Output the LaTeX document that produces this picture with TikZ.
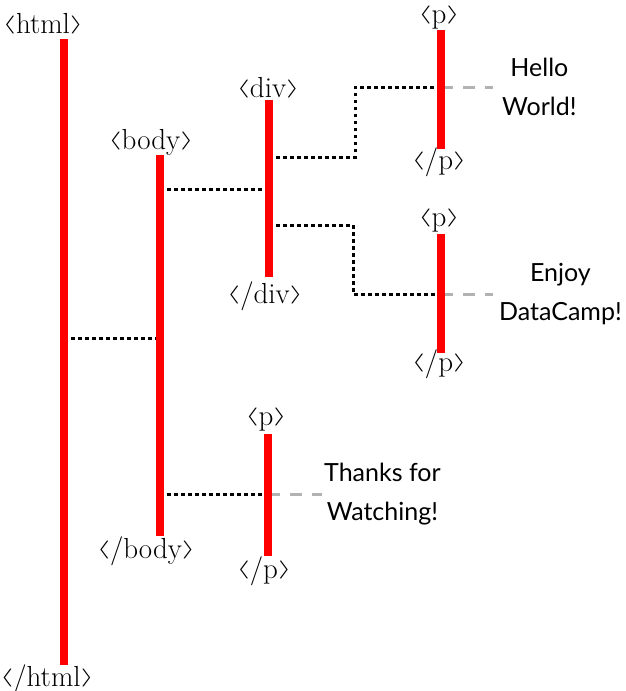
\RequirePackage{fix-cm}
\documentclass[tikz,border=0pt]{standalone}
\usepackage{fontspec}
\newfontfamily\leaffont{Lato}
\newcommand{\tagfont}{\fontsize{29}{34}\selectfont}
\newcommand{\tagl}{\raisebox{3.5pt}{\scalebox{1.2}[0.62]{$\langle$}}}
\newcommand{\tagr}{\raisebox{3.5pt}{\scalebox{1.2}[0.62]{$\rangle$}}}
\newcommand{\ot}[1]{\tagl#1\tagr}
\newcommand{\ct}[1]{\tagl/#1\tagr}

\begin{document}
\begin{tikzpicture}[x=1pt, y=-1pt, tag/.style={font=\tagfont, anchor=base, inner sep=0pt},
	bar/.style={red, line width=8pt},
	link/.style={black, line width=3pt, dash pattern=on 3.5pt off 3.5pt},
	leaf/.style={black!30, line width=3pt, dash pattern=on 12pt off 10pt},
	words/.style={font={\leaffont\fontsize{25}{39}\selectfont}, align=center, anchor=west, inner ysep=0pt}]
		\useasboundingbox (0,0) rectangle (626,691);
		
		\node[tag] (html-o) at (43,33) {\ot{html}};
		\node[tag] (html-c) at (47,686) {\ct{html}};
		\node[tag] (body-o) at (151,149) {\ot{body}};
		\node[tag] (body-c) at (146,558) {\ct{body}};
		\node[tag] (div-o) at (268,97) {\ot{div}};
		\node[tag] (div-c) at (265,303) {\ct{div}};
		\node[tag] (p1-o) at (439,23) {\ot{p}};
		\node[tag] (p1-c) at (439,169) {\ct{p}};
		\node[tag] (p2-o) at (439,226) {\ot{p}};
		\node[tag] (p2-c) at (439,371) {\ct{p}};
		\node[tag] (p3-o) at (266,425) {\ot{p}};
		\node[tag] (p3-c) at (264,578) {\ct{p}};
		
		\node[words, inner xsep=9pt] (hello) at (493,87) {Hello\\World!};
		\node[words, inner xsep=6pt] (enjoy) at (493,294) {Enjoy\\DataCamp!};
		\node[words, inner xsep=2pt] (thanks) at (322,494) {Thanks for\\Watching!};
		
		% ends of the element bars
		\coordinate (html-t) at (64,39);   \coordinate (html-b) at (64,665);
		\coordinate (body-t) at (160,155); \coordinate (body-b) at (160,536);
		\coordinate (div-t) at (269,100);  \coordinate (div-b) at (269,277);
		\coordinate (p1-t) at (441,30);    \coordinate (p1-b) at (441,149);
		\coordinate (p2-t) at (441,234);   \coordinate (p2-b) at (441,353);
		\coordinate (p3-t) at (268,434);   \coordinate (p3-b) at (268,556);
		
		\draw[link] (html-t |- 0,338) -- (body-t |- 0,338);
		\draw[link] (body-t |- 0,189) -- (div-t |- 0,189);
		\draw[link] (div-t |- 0,157) -| (355,87) -- (p1-t |- hello.west);
		\draw[link] (div-t |- 0,225) -| (353,294) -- (p2-t |- enjoy.west);
		\draw[link] (body-t |- thanks.west) -- (p3-t |- thanks.west);
		
		\draw[leaf] (p1-t |- hello.west) -- (hello.west);
		\draw[leaf] (p2-t |- enjoy.west) -- (enjoy.west);
		\draw[leaf] (p3-t |- thanks.west) -- (thanks.west);
		
		\foreach \t in {html,body,div,p1,p2,p3}
			\draw[bar] (\t-t) -- (\t-b);
	\end{tikzpicture}
\end{document}
